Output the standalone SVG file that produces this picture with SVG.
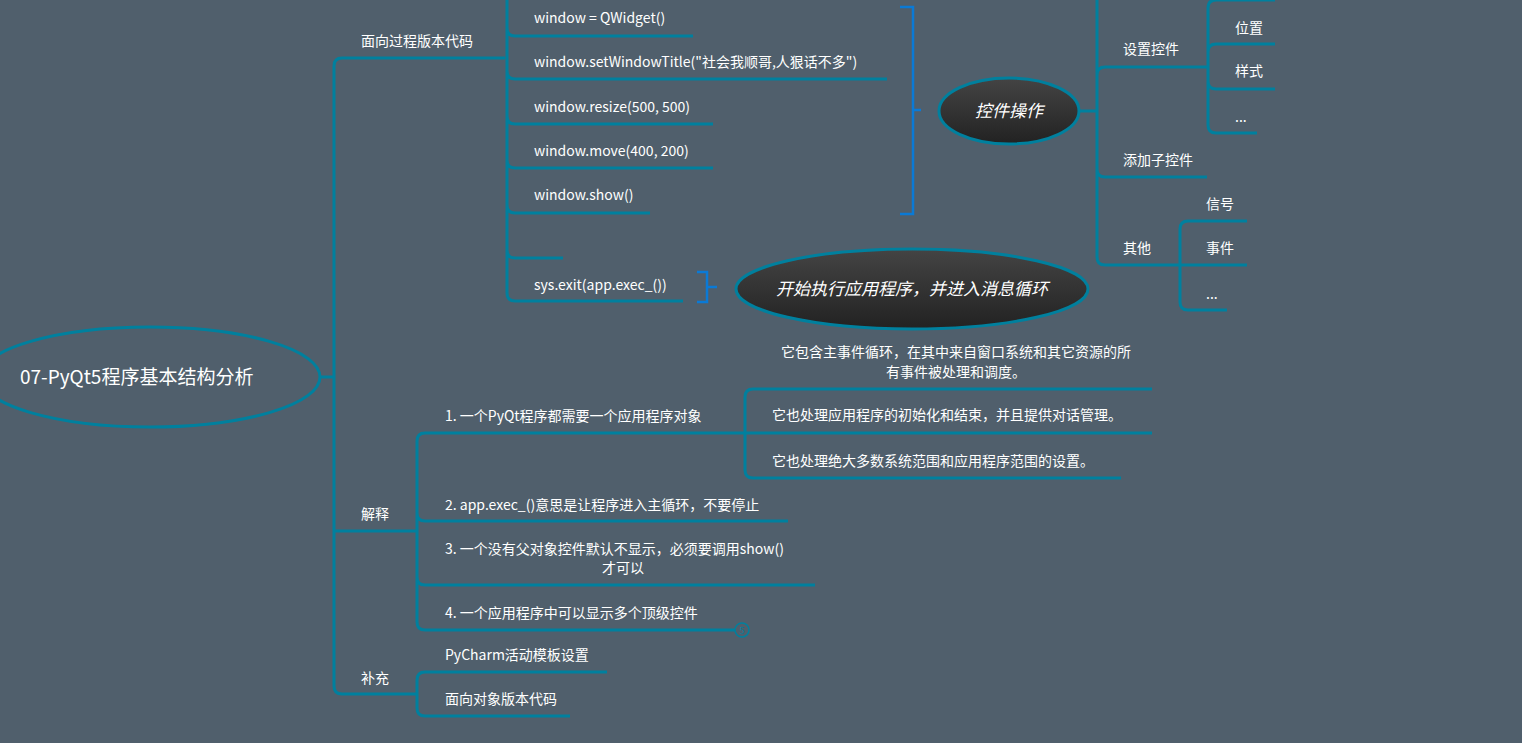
<svg xmlns="http://www.w3.org/2000/svg" width="1522" height="743" viewBox="0 0 1522 743">
<style>
.l{fill:none;stroke:#00809e;stroke-width:3;stroke-linecap:butt}
.b{fill:none;stroke:#0a7ad6;stroke-width:2.5}
text{font-family:"Noto Sans CJK SC","Liberation Sans",sans-serif;font-size:14px;fill:#ffffff}
.c{text-anchor:middle}
.e{font-style:italic;font-size:17px}
</style>
<defs>
<linearGradient id="g" x1="0" y1="0" x2="0" y2="1"><stop offset="0" stop-color="#444"/><stop offset="1" stop-color="#222"/></linearGradient>
</defs>
<rect width="1522" height="743" fill="#505f6c"/>
<g id="connectors">
<path class="l" d="M320 377H334M505 58H342Q334 58 334 66V686Q334 694 342 694H417M334 531H417"/>
<path class="l" d="M507 0V293Q507 301 515 301H683M507 28Q507 36 515 36H693M507 71Q507 79 515 79H887M507 116Q507 124 515 124H713M507 160Q507 168 515 168H713M507 205Q507 213 515 213H650M507 250Q507 258 515 258H563"/>
<path class="l" d="M1079 111H1097M1097 0V257Q1097 265 1105 265H1180M1097 75Q1097 67 1105 67H1208M1097 169Q1097 177 1105 177H1207"/>
<path class="l" d="M1208 8Q1208 0 1216 0H1275M1208 8V125Q1208 133 1216 133H1257M1208 52Q1208 44 1216 44H1275M1208 81Q1208 89 1216 89H1275"/>
<path class="l" d="M1180 229Q1180 221 1188 221H1247M1180 229V302Q1180 310 1188 310H1227M1180 265H1247"/>
<path class="l" d="M417 441Q417 433 425 433H745M417 441V622Q417 630 425 630H735M417 513Q417 521 425 521H788M417 577Q417 585 425 585H815"/>
<path class="l" d="M745 397Q745 389 753 389H1152M745 397V470Q745 478 753 478H1121M745 433H1152"/>
<path class="l" d="M417 680Q417 672 425 672H607M417 680V708Q417 716 425 716H570"/>
<path class="b" d="M900 7H913V214H900M913 110H921"/>
<path class="b" d="M697 272H707V302H697M707 287H717"/>
</g>
<g id="root"><ellipse cx="150" cy="377" rx="170" ry="50" fill="#505f6c" stroke="#00809e" stroke-width="3"/><text x="20" y="384" style="font-size:19px">07-PyQt5程序基本结构分析</text></g>
<g id="b1"><text x="361" y="46">面向过程版本代码</text></g>
<g id="c1"><text x="534" y="23">window = QWidget()</text></g>
<g id="c2"><text x="534" y="67">window.setWindowTitle("社会我顺哥,人狠话不多")</text></g>
<g id="c3"><text x="534" y="112">window.resize(500, 500)</text></g>
<g id="c4"><text x="534" y="156">window.move(400, 200)</text></g>
<g id="c5"><text x="534" y="200">window.show()</text></g>
<g id="c7"><text x="534" y="290">sys.exit(app.exec_())</text></g>
<g id="e1"><ellipse cx="1009" cy="111" rx="70" ry="33" fill="url(#g)" stroke="#00809e" stroke-width="3"/><text class="c e" x="1009" y="117">控件操作</text></g>
<g id="e2"><ellipse cx="912" cy="289" rx="176" ry="40" fill="url(#g)" stroke="#00809e" stroke-width="3"/><text class="c e" x="912" y="295">开始执行应用程序，并进入消息循环</text></g>
<g id="s1"><text x="1123" y="54">设置控件</text></g>
<g id="s2"><text x="1235" y="33">位置</text></g>
<g id="s3"><text x="1235" y="76">样式</text></g>
<g id="s4"><text x="1235" y="122">...</text></g>
<g id="s5"><text x="1123" y="165">添加子控件</text></g>
<g id="s6"><text x="1123" y="253">其他</text></g>
<g id="s7"><text x="1206" y="209">信号</text></g>
<g id="s8"><text x="1206" y="253">事件</text></g>
<g id="s9"><text x="1206" y="299">...</text></g>
<g id="b2"><text x="361" y="519">解释</text></g>
<g id="j1"><text x="445" y="421">1. 一个PyQt程序都需要一个应用程序对象</text></g>
<g id="j1a"><text class="c" x="956" y="357">它包含主事件循环，在其中来自窗口系统和其它资源的所</text><text class="c" x="956" y="377">有事件被处理和调度。</text></g>
<g id="j1b"><text x="772" y="420">它也处理应用程序的初始化和结束，并且提供对话管理。</text></g>
<g id="j1c"><text x="772" y="466">它也处理绝大多数系统范围和应用程序范围的设置。</text></g>
<g id="j2"><text x="445" y="510">2. app.exec_()意思是让程序进入主循环，不要停止</text></g>
<g id="j3"><text x="445" y="554">3. 一个没有父对象控件默认不显示，必须要调用show()</text><text class="c" x="623" y="573">才可以</text></g>
<g id="j4"><text x="445" y="618">4. 一个应用程序中可以显示多个顶级控件</text><circle cx="742" cy="630" r="7" fill="#505f6c" stroke="#00809e" stroke-width="1.5"/><text class="c" x="742" y="634" style="font-size:9px;fill:#00809e">5</text></g>
<g id="b3"><text x="361" y="683">补充</text></g>
<g id="p1"><text x="445" y="660">PyCharm活动模板设置</text></g>
<g id="p2"><text x="445" y="704">面向对象版本代码</text></g>
</svg>
